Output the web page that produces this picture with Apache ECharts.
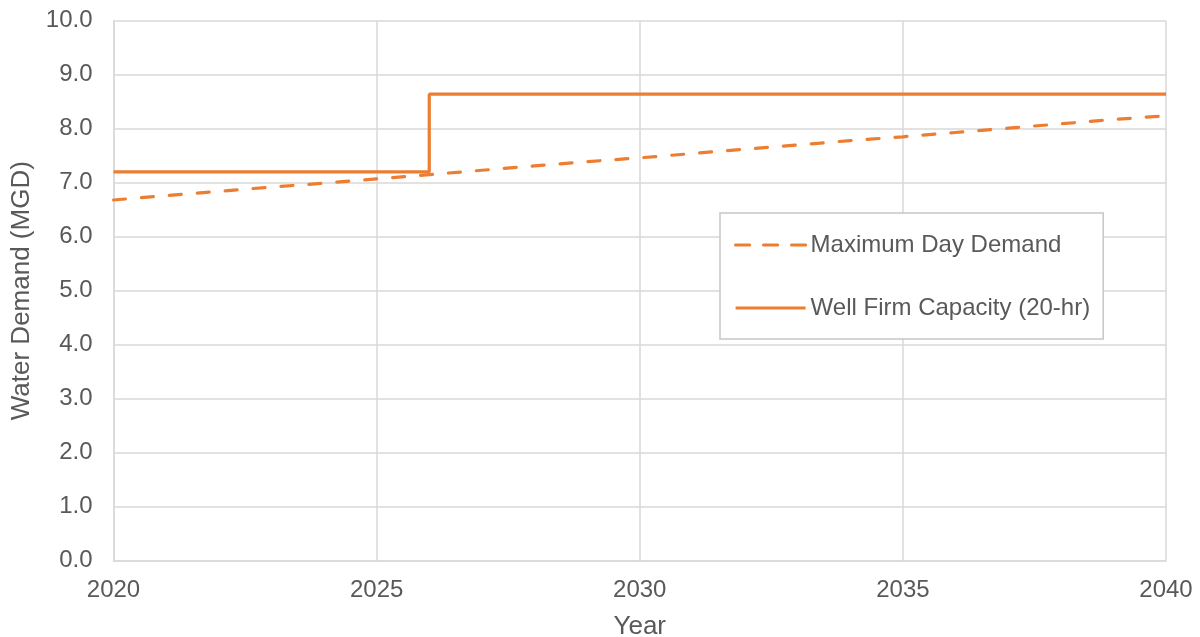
<!DOCTYPE html>
<html>
<head>
<meta charset="utf-8">
<title>Water Demand vs Well Firm Capacity</title>
<script src="https://cdn.jsdelivr.net/npm/echarts@6/dist/echarts.min.js"></script>
<style>
  html, body { margin: 0; padding: 0; background: #ffffff; }
  #chart { width: 1200px; height: 637px; }
</style>
</head>
<body>
<div id="chart"></div>
<script>
// Projected maximum day demand by year (MGD)
const years = [2020, 2021, 2022, 2023, 2024, 2025, 2026, 2027, 2028, 2029, 2030,
               2031, 2032, 2033, 2034, 2035, 2036, 2037, 2038, 2039, 2040];
const maxDayDemand = [6.68, 6.76, 6.84, 6.92, 6.99, 7.07, 7.15, 7.23, 7.31, 7.39, 7.46,
                      7.54, 7.62, 7.70, 7.78, 7.85, 7.93, 8.01, 8.09, 8.17, 8.24];

// Well firm capacity (20-hr), stepping up when new capacity comes online
const capacityYears = [2020, 2026, 2026, 2040];
const wellFirmCapacity = [7.20, 7.20, 8.64, 8.64];

const seriesNames = ['Maximum Day Demand', 'Well Firm Capacity (20-hr)'];
const xTitle = 'Year';
const yTitle = 'Water Demand (MGD)';

const lineColor = '#ED7D31';
const textColor = '#595959';
const gridColor = '#d9d9d9';
const fontFamily = 'Liberation Sans, Arial, sans-serif';
const fontSize = 24;
const titleSize = 26;
const lineWidth = 3.2;
const demandDash = [12, 16];

const chart = echarts.init(document.getElementById('chart'), null, { renderer: 'canvas' });

chart.setOption({
  animation: false,
  backgroundColor: '#ffffff',
  textStyle: { fontFamily: fontFamily, color: textColor },
  grid: {
    left: 113.5, right: 34, top: 20.7, bottom: 76.3,
    containLabel: false,
    outerBoundsMode: 'none'
  },
  legend: {
    data: [
      { name: seriesNames[0], lineStyle: { width: lineWidth, type: [14, 14], cap: 'round' } },
      { name: seriesNames[1], lineStyle: { width: lineWidth, type: 'solid' } }
    ],
    orient: 'vertical',
    left: 720,
    top: 213,
    padding: [20, 13, 19, 14],
    itemWidth: 70,
    itemHeight: 20,
    itemGap: 39,
    borderColor: '#c6c6c6',
    borderWidth: 1.5,
    backgroundColor: '#ffffff',
    itemStyle: { opacity: 0 },
    textStyle: { fontFamily: fontFamily, fontSize: fontSize, color: textColor }
  },
  xAxis: {
    type: 'value',
    min: 2020,
    max: 2040,
    interval: 5,
    name: xTitle,
    nameLocation: 'middle',
    nameGap: 53,
    nameTextStyle: { fontFamily: fontFamily, fontSize: titleSize, color: textColor },
    axisLine: { show: true, lineStyle: { color: gridColor, width: 1.5 } },
    axisTick: { show: false },
    axisLabel: {
      margin: 18,
      fontFamily: fontFamily, fontSize: fontSize, color: textColor,
      formatter: v => String(v)
    },
    splitLine: { show: true, lineStyle: { color: gridColor, width: 1.5 } }
  },
  yAxis: {
    type: 'value',
    min: 0,
    max: 10,
    interval: 1,
    name: yTitle,
    nameLocation: 'middle',
    nameGap: 72,
    nameTextStyle: { fontFamily: fontFamily, fontSize: titleSize, color: textColor },
    axisLine: { show: true, lineStyle: { color: gridColor, width: 1.5 } },
    axisTick: { show: false },
    axisLabel: {
      margin: 21,
      fontFamily: fontFamily, fontSize: fontSize, color: textColor,
      formatter: v => v.toFixed(1)
    },
    splitLine: { show: true, lineStyle: { color: gridColor, width: 1.5 } }
  },
  series: [
    {
      name: seriesNames[0],
      type: 'line',
      data: years.map((y, i) => [y, maxDayDemand[i]]),
      showSymbol: false,
      symbol: 'none',
      lineStyle: { color: lineColor, width: lineWidth, type: demandDash, cap: 'round' },
      itemStyle: { color: lineColor },
      z: 3
    },
    {
      name: seriesNames[1],
      type: 'line',
      data: capacityYears.map((y, i) => [y, wellFirmCapacity[i]]),
      showSymbol: false,
      symbol: 'none',
      lineStyle: { color: lineColor, width: lineWidth, type: 'solid' },
      itemStyle: { color: lineColor },
      z: 4
    }
  ]
});
</script>
</body>
</html>
